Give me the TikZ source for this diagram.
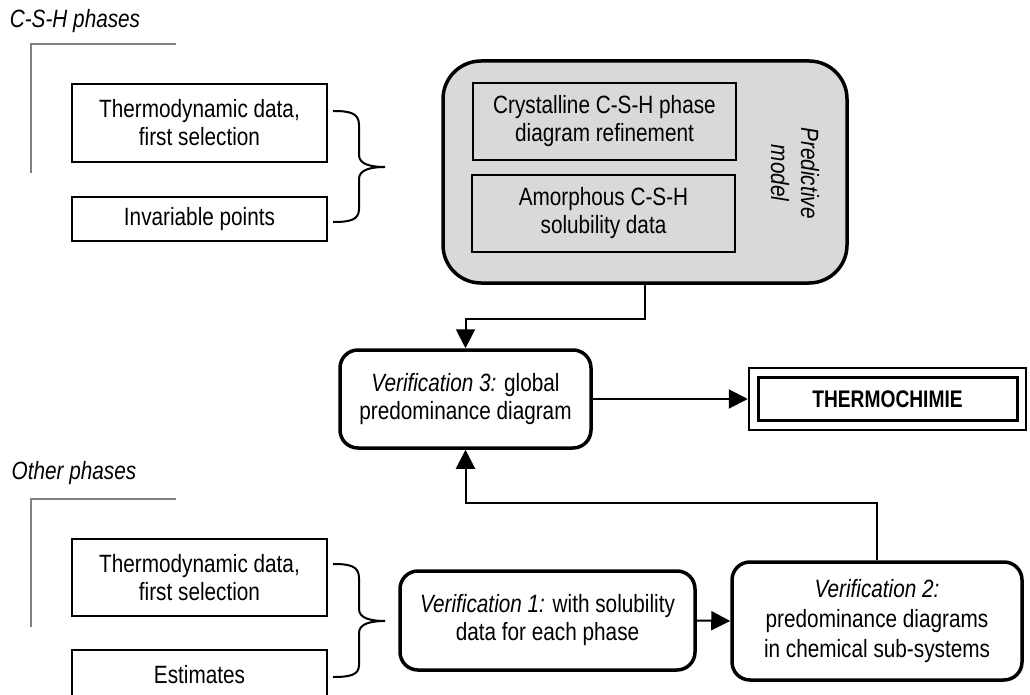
\documentclass[tikz,border=0pt]{standalone}
\usepackage{fontspec}
\setmainfont{Liberation Sans}[FakeStretch=0.83]
\newfontfamily\thermofont{Liberation Sans}[FakeStretch=0.8]
\usetikzlibrary{arrows.meta}
\definecolor{boxgray}{HTML}{D9D9D9}
\definecolor{linegray}{HTML}{808080}
\tikzset{
  txt/.style={font=\fontsize{25}{28}\selectfont, align=center, inner sep=0pt},
  databox/.style={txt, draw, line width=1.6pt, rectangle},
  innerbox/.style={txt, draw, line width=1.6pt, rectangle, fill=boxgray},
  verbox/.style={txt, draw, line width=3.5pt, rectangle, rounded corners=18pt},
  predbox/.style={draw, line width=3.5pt, rectangle, rounded corners=38pt, fill=boxgray, inner sep=0pt},
  conn/.style={line width=2pt, -{Triangle[length=19pt,width=19pt]}},
  bracepath/.style={line width=2pt},
  grayline/.style={draw=linegray, line width=1.2pt},
  grouplabel/.style={font=\fontsize{25}{28}\selectfont\itshape, inner sep=0pt}
}
\begin{document}
\begin{tikzpicture}[x=1pt,y=-1pt]
\clip (0,0) rectangle (1030,695);
\fill[white] (0,0) rectangle (1030,695);

% C-S-H phases group
\node[grouplabel] (lab1) at (75,21) {C-S-H phases};
\coordinate (g1a) at (176,44);
\coordinate (g1b) at (31,44);
\coordinate (g1c) at (31,173);
\draw[grayline] (g1a) -- (g1b) -- (g1c);

\node[databox, minimum width=255pt, minimum height=78pt] (td1) at (199.5,123) {Thermodynamic data,\\first selection};
\node[databox, minimum width=255pt, minimum height=44pt] (inv) at (199.5,219) {Invariable points};

\coordinate (b1t) at (333,111);
\coordinate (b1m) at (385,167);
\coordinate (b1b) at (333,222);
\draw[bracepath] (b1t) .. controls (350,111) and (359,113) .. (359,125) -- (359,155)
  .. controls (359,164) and (370,167) .. (b1m)
  .. controls (370,167) and (359,170) .. (359,179) -- (359,209)
  .. controls (359,220) and (350,222) .. (b1b);

% Predictive model
\node[predbox, minimum width=404pt, minimum height=222pt] (pm) at (645,172) {};
\node[innerbox, minimum width=263pt, minimum height=77pt] (cryst) at (604.5,121.5) {Crystalline C-S-H phase\\diagram refinement};
\node[innerbox, minimum width=263pt, minimum height=77pt] (amor) at (603.5,213.5) {Amorphous C-S-H\\solubility data};
\node[txt, rotate=-90, font=\fontsize{25}{30}\selectfont\itshape] (pmlab) at (795,173) {Predictive\\model};

% Verification 3
\node[verbox, minimum width=251pt, minimum height=98pt] (v3) at (465.5,399) {\textit{Verification 3:} global\\predominance diagram};
\draw[conn] (pm.south) -- ++(0,34) -| (v3.north);

% THERMOCHIMIE
\node[draw, line width=2.5pt, minimum width=277pt, minimum height=62pt, inner sep=0pt] (thermo) at (887.5,399) {};
\node[draw, line width=3pt, minimum width=259pt, minimum height=43pt, inner sep=0pt, font=\thermofont\bfseries\fontsize{24}{26}\selectfont] (thermoin) at (thermo.center) {THERMOCHIMIE};
\draw[conn] (v3.east) -- (thermo.west);

% Other phases group
\node[grouplabel] (lab2) at (74,473) {Other phases};
\coordinate (g2a) at (176,499);
\coordinate (g2b) at (31,499);
\coordinate (g2c) at (31,627);
\draw[grayline] (g2a) -- (g2b) -- (g2c);

\node[databox, minimum width=255pt, minimum height=77pt] (td2) at (199.5,577.5) {Thermodynamic data,\\first selection};
\node[databox, minimum width=255pt, minimum height=50pt] (est) at (199.5,675) {Estimates};

\coordinate (b2t) at (333,564);
\coordinate (b2m) at (385,621);
\coordinate (b2b) at (333,677);
\draw[bracepath] (b2t) .. controls (350,564) and (359,566) .. (359,578) -- (359,609)
  .. controls (359,618) and (370,621) .. (b2m)
  .. controls (370,621) and (359,624) .. (359,633) -- (359,665)
  .. controls (359,675) and (350,677) .. (b2b);

% Verification 1 and 2
\node[verbox, minimum width=295pt, minimum height=99pt] (v1) at (547.5,620.5) {\textit{Verification 1:} with solubility\\data for each phase};
\node[verbox, minimum width=290pt, minimum height=118pt, font=\fontsize{25}{30}\selectfont] (v2) at (877,621) {\textit{Verification 2:}\\predominance diagrams\\in chemical sub-systems};
\draw[conn] (v1.east) -- (v2.west);
\draw[conn] (v2.north) -- ++(0,-57) -| (v3.south);
\end{tikzpicture}
\end{document}
